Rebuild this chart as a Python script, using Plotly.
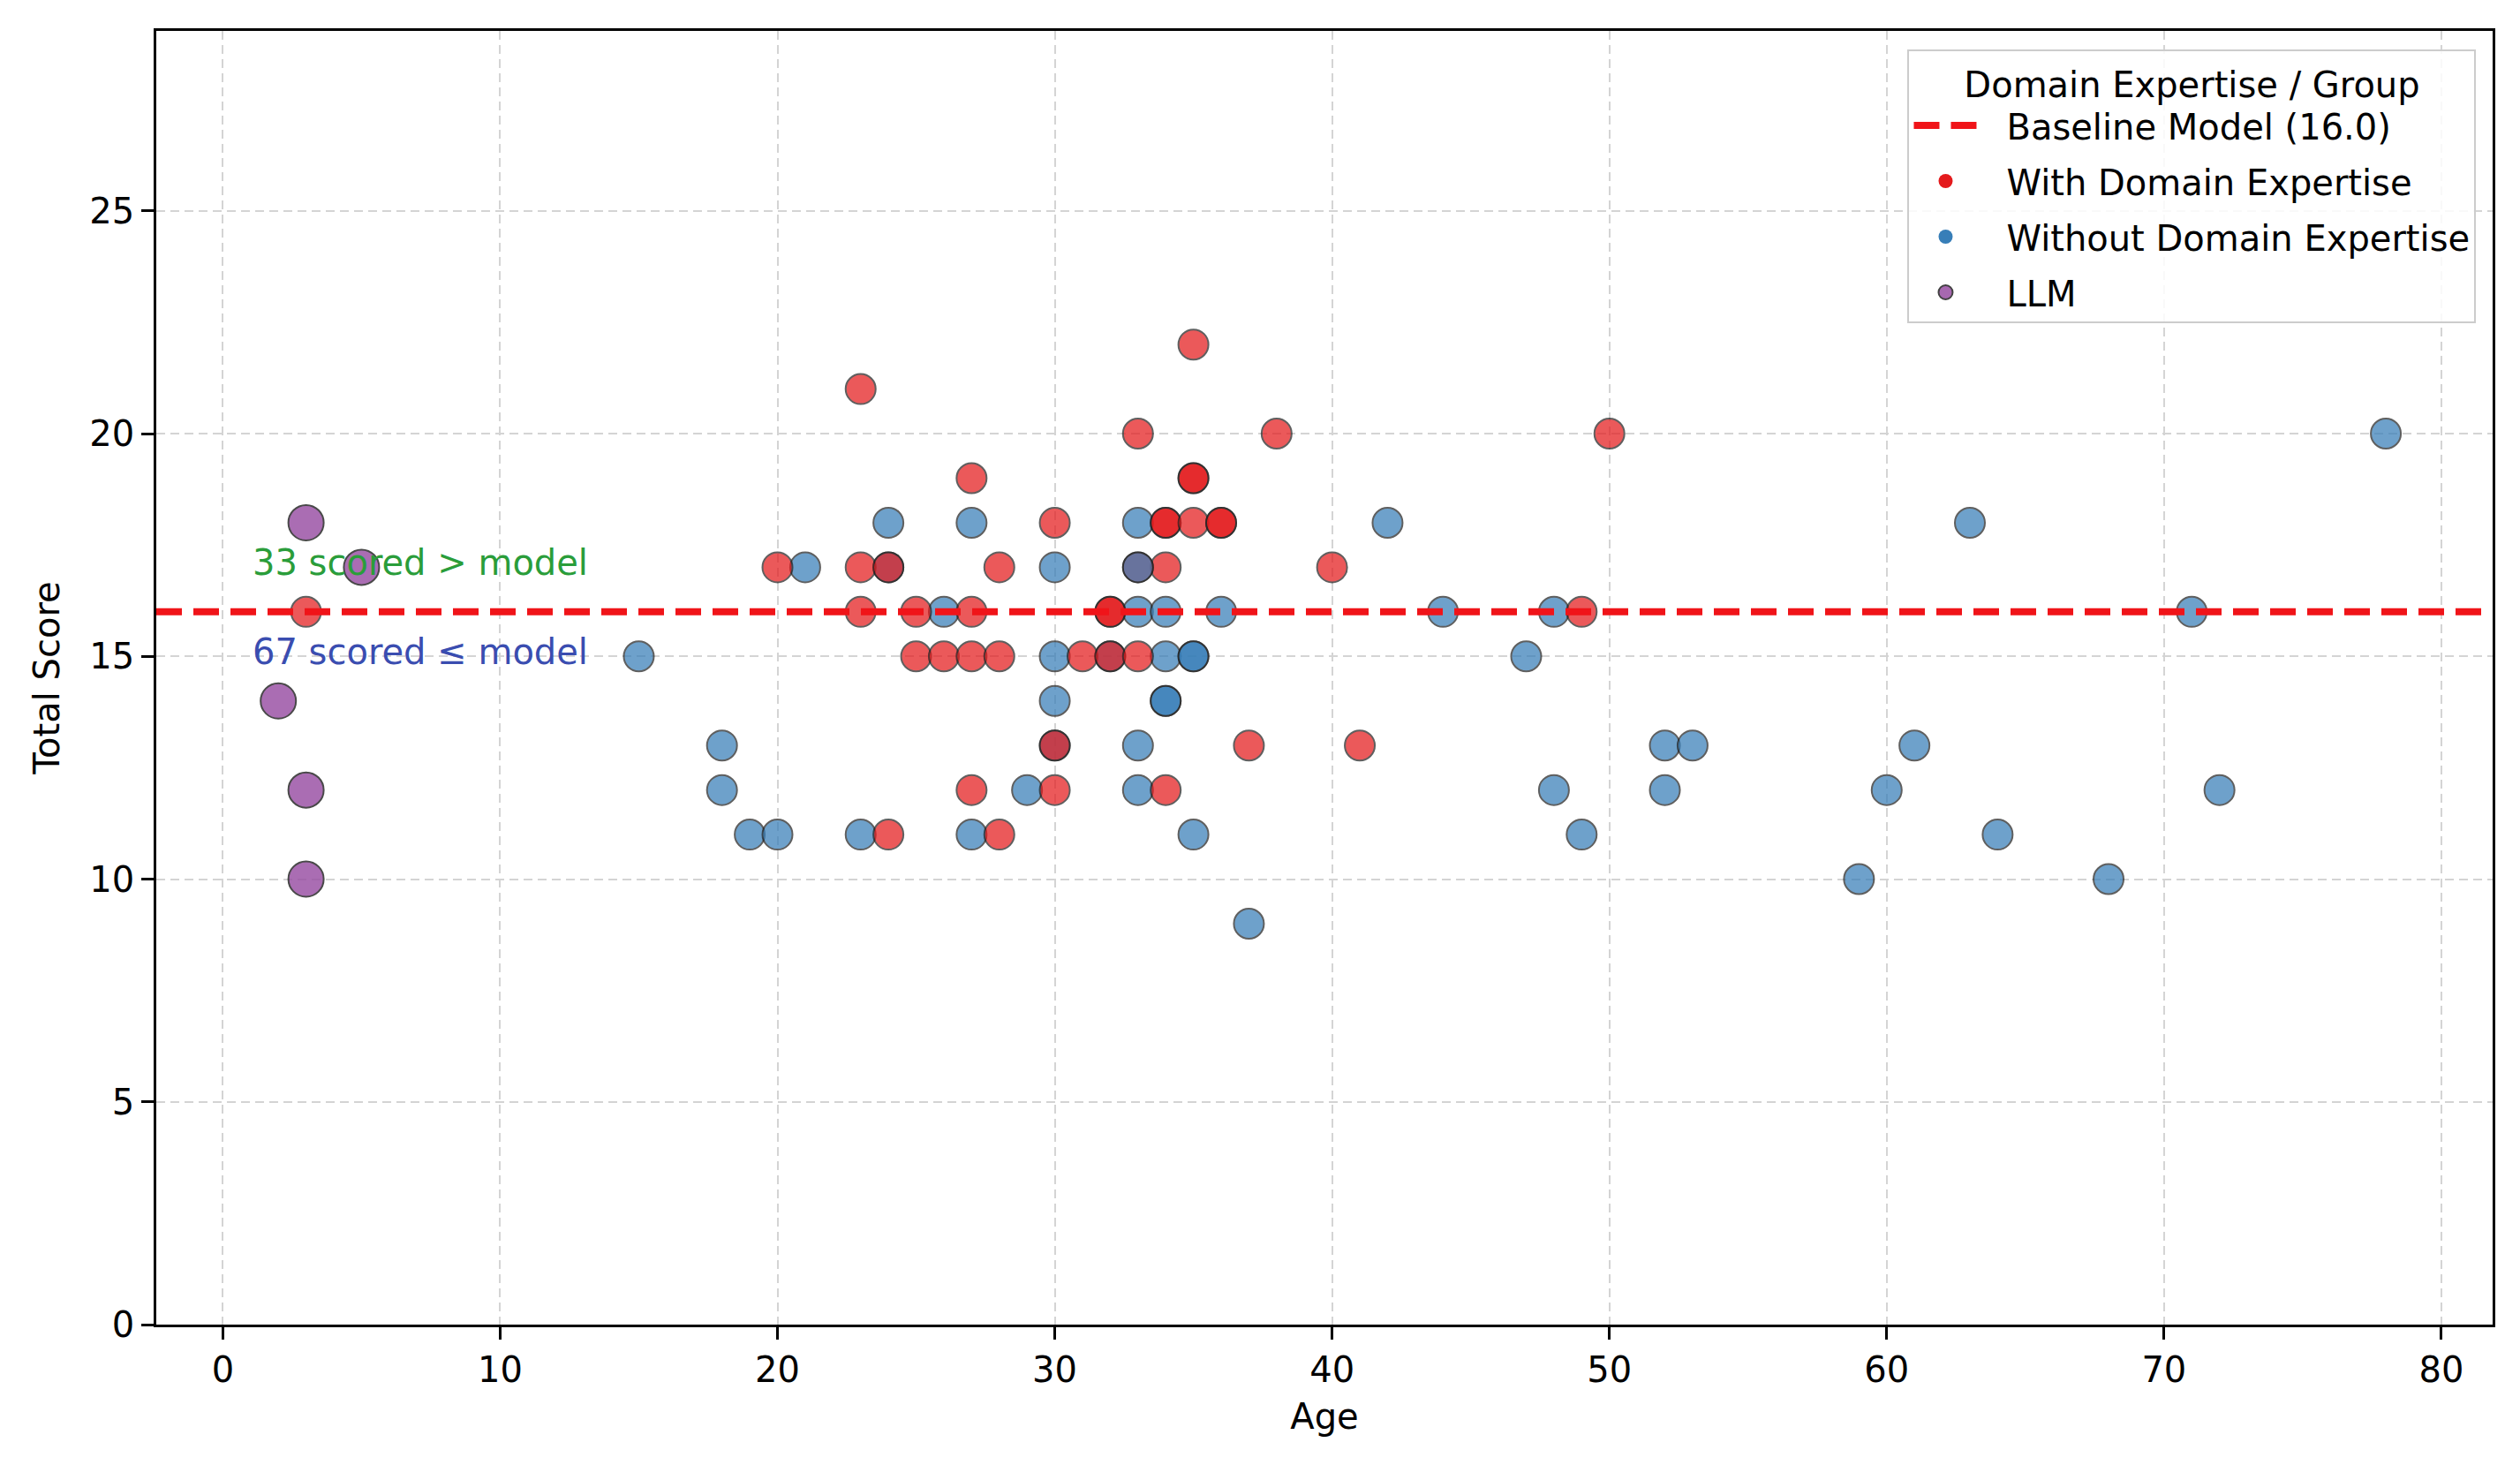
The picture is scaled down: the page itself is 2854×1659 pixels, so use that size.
import plotly.graph_objects as go

# ---- data ----
# participants in plotting order; group: "E" = with domain expertise, "N" = without
participant_age = [
    15, 18, 18, 19, 20, 21, 24, 24, 26, 23, 27, 27, 29, 30, 30, 30, 30,
    33, 33, 34, 36, 44, 32, 34, 35, 35, 34, 34, 33, 33, 35, 37, 42, 48,
    47, 52, 53, 48, 52, 49, 60, 61, 59, 78, 63, 71, 64, 68, 72,
    3, 20, 23, 23, 24, 23, 25, 27, 27, 28, 25, 26, 27, 28, 30, 30, 27,
    30, 24, 28, 35, 33, 38, 35, 35, 34, 34, 35, 36, 36, 34, 40, 32, 32,
    31, 32, 33, 37, 41, 34, 50, 49, 33,
    33,
]
participant_score = [
    15, 13, 12, 11, 11, 17, 18, 17, 16, 11, 18, 11, 12, 17, 15, 14, 13,
    18, 16, 16, 16, 16, 15, 15, 15, 15, 14, 14, 13, 12, 11, 9, 18, 16,
    15, 13, 13, 12, 12, 11, 12, 13, 10, 20, 18, 16, 11, 10, 12,
    16, 17, 21, 17, 17, 16, 16, 16, 19, 17, 15, 15, 15, 15, 18, 13, 12,
    12, 11, 11, 22, 20, 20, 19, 19, 18, 18, 18, 18, 18, 17, 17, 16, 16,
    15, 15, 15, 13, 13, 12, 20, 16, 17,
    17,
]
participant_group = ["N"] * 49 + ["E"] * 43 + ["N"]

llm_age = [3, 5, 2, 3, 3]
llm_score = [18, 17, 14, 12, 10]

baseline_score = 16.0
n_above = 33
n_at_or_below = 67

group_names = {"E": "With Domain Expertise", "N": "Without Domain Expertise"}
group_colors = {"E": "#e41a1c", "N": "#377eb8"}
llm_color = "#984ea3"

FONT = "DejaVu Sans"
FS = 40
PAD = "\u2002\u2009"  # small gap between legend symbol and label

fig = go.Figure()

# participants (single trace so that overlapping points keep data order)
fig.add_trace(go.Scatter(
    x=participant_age, y=participant_score, mode="markers",
    marker=dict(size=34, color=[group_colors[g] for g in participant_group],
                opacity=0.72, line=dict(color="#222222", width=2)),
    showlegend=False, hoverinfo="x+y",
))

# LLM points
fig.add_trace(go.Scatter(
    x=llm_age, y=llm_score, mode="markers", name="LLM",
    marker=dict(size=40, color=llm_color, opacity=0.82,
                line=dict(color="#222222", width=2)),
    showlegend=False,
))

# legend entries
fig.add_trace(go.Scatter(
    x=[None], y=[None], mode="lines", name=PAD + f"Baseline Model ({baseline_score})",
    legendgroup="g1",
    line=dict(color="rgba(240,20,25,1)", width=8, dash="29px,13px"),
))
for i, g in enumerate(["E", "N"]):
    fig.add_trace(go.Scatter(
        x=[None], y=[None], mode="markers", name=PAD + group_names[g],
        legendgroup=f"g{i + 2}",
        marker=dict(size=16, color=group_colors[g], opacity=1, line=dict(width=0)),
    ))
fig.add_trace(go.Scatter(
    x=[None], y=[None], mode="markers", name=PAD + "LLM", legendgroup="g4",
    marker=dict(size=16, color=llm_color, opacity=0.85,
                line=dict(color="#222222", width=2)),
))

# baseline line
fig.add_hline(y=baseline_score, line=dict(color="rgba(240,20,25,1)", width=8,
                                          dash="29px,13px"), layer="above")

# annotations
fig.add_annotation(x=1, y=baseline_score + 1.1, xref="x", yref="y",
                   text=f"{n_above} scored > model", showarrow=False,
                   xanchor="left", yanchor="middle",
                   font=dict(family=FONT, size=FS, color="#2a9d3a"))
fig.add_annotation(x=1, y=baseline_score - 0.9, xref="x", yref="y",
                   text=f"{n_at_or_below} scored ≤ model", showarrow=False,
                   xanchor="left", yanchor="middle",
                   font=dict(family=FONT, size=FS, color="#3a4db0"))

axis_common = dict(
    showline=True, mirror=True, linecolor="black", linewidth=2.5,
    ticks="outside", ticklen=14, tickwidth=2.5, tickcolor="black",
    showgrid=True, gridcolor="#d4d4d4", gridwidth=2, griddash="10px,6px",
    zeroline=False, tickfont=dict(family=FONT, size=FS, color="black"),
)

fig.update_xaxes(range=[-2.4, 81.85], tick0=0, dtick=10,
                 title=dict(text="Age", font=dict(family=FONT, size=FS, color="black"),
                            standoff=18),
                 **axis_common)
fig.update_yaxes(range=[0, 29.04], tick0=0, dtick=5,
                 title=dict(text="Total Score", font=dict(family=FONT, size=FS, color="black"),
                            standoff=22),
                 **axis_common)

fig.update_layout(
    width=2854, height=1659,
    margin=dict(l=177, r=31, t=35, b=159, autoexpand=False),
    paper_bgcolor="white", plot_bgcolor="white",
    font=dict(family=FONT, size=FS, color="black"),
    legend=dict(
        x=0.993, y=0.986, xanchor="right", yanchor="top",
        title=dict(text="Domain Expertise / Group", side="top center",
                   font=dict(family=FONT, size=FS)),
        font=dict(family=FONT, size=FS),
        bgcolor="rgba(255,255,255,0.85)", bordercolor="#cccccc", borderwidth=2,
        itemwidth=72, traceorder="grouped", tracegroupgap=8,
    ),
)

fig.write_html("out.html")
